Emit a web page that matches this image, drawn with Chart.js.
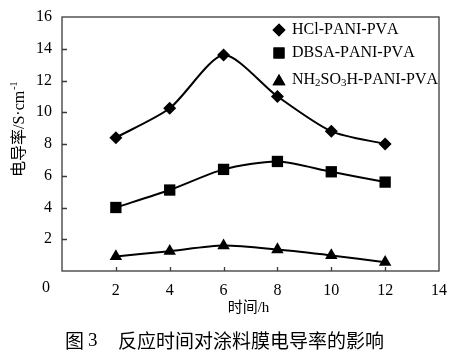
<!DOCTYPE html>
<html><head><meta charset="utf-8">
<script src="https://cdn.jsdelivr.net/npm/chart.js@4.4.1/dist/chart.umd.min.js"></script>
<style>html,body{margin:0;padding:0;background:#fff;}canvas{display:block;}</style>
</head><body>
<canvas id="c" width="453" height="356"></canvas>
<script>
// ---- data ----
const hours = [2, 4, 6, 8, 10, 12];
const seriesNames = ['HCl-PANI-PVA', 'DBSA-PANI-PVA', 'NH₂SO₃H-PANI-PVA'];
const hclValues = [8.4, 10.25, 13.6, 11.0, 8.8, 8.0];
const dbsaValues = [4.0, 5.1, 6.4, 6.9, 6.25, 5.6];
const nhValues = [0.92, 1.25, 1.6, 1.35, 0.98, 0.55];
const xTickValues = [0, 2, 4, 6, 8, 10, 12, 14];
const yTickValues = [0, 2, 4, 6, 8, 10, 12, 14, 16];
const xTitle = '时间/h';
const yTitleMain = '电导率/S·cm';
const yTitleSup = '-1';
const captionLabel = '图 3';
const captionText = '反应时间对涂料膜电导率的影响';

const SERIF = '"Liberation Serif", "Noto Sans CJK SC", serif';
const INK = '#000';
const FRAME = '#3a3a3a';

function pts(vals) { return hours.map((h, i) => ({ x: h, y: vals[i] })); }

const styles = [
  { pointStyle: 'rectRot', radius: 6.5 },
  { pointStyle: 'rect', radius: 8 },
  { pointStyle: 'triangle', radius: 7.2 }
];
const allVals = [hclValues, dbsaValues, nhValues];

const datasets = allVals.map((v, i) => ({
  label: seriesNames[i],
  data: pts(v),
  borderColor: INK,
  borderWidth: 2,
  backgroundColor: INK,
  pointStyle: styles[i].pointStyle,
  pointRadius: styles[i].radius,
  pointBackgroundColor: INK,
  pointBorderWidth: 0,
  tension: 0.25,
  fill: false
}));

function drawRich(ctx, text, x, y, size) {
  let cx = x;
  for (const ch of text) {
    const code = ch.codePointAt(0);
    if (code >= 0x2080 && code <= 0x2089) {
      const d = String(code - 0x2080);
      ctx.font = (size * 0.68) + 'px ' + SERIF;
      ctx.fillText(d, cx, y + size * 0.22);
      cx += ctx.measureText(d).width;
    } else {
      ctx.font = size + 'px ' + SERIF;
      ctx.fillText(ch, cx, y);
      cx += ctx.measureText(ch).width;
    }
  }
}

const decor = {
  id: 'decor',
  afterDraw(chart) {
    const ctx = chart.ctx;
    const a = chart.chartArea;
    const xs = chart.scales.x, ys = chart.scales.y;
    ctx.save();
    ctx.strokeStyle = FRAME;
    ctx.lineWidth = 1.3;
    ctx.strokeRect(a.left, a.top, a.right - a.left, a.bottom - a.top);
    ctx.beginPath();
    yTickValues.forEach(v => {
      if (v === 0 || v === 16) return;
      const y = Math.round(ys.getPixelForValue(v)) + 0.5;
      ctx.moveTo(a.left, y); ctx.lineTo(a.left + 5, y);
    });
    xTickValues.forEach(v => {
      if (v === 0 || v === 14) return;
      const x = Math.round(xs.getPixelForValue(v)) + 0.5;
      ctx.moveTo(x, a.bottom); ctx.lineTo(x, a.bottom - 4);
    });
    ctx.stroke();
    ctx.fillStyle = INK;
    ctx.font = '16px ' + SERIF;
    ctx.textAlign = 'center';
    ctx.textBaseline = 'middle';
    ctx.fillText(String(xTickValues[0]), xs.getPixelForValue(0) - 16, a.bottom + 17);
    // legend
    ctx.textAlign = 'left';
    ctx.textBaseline = 'middle';
    const legY = [30, 53, 80];
    chart.data.datasets.forEach((ds, i) => {
      const mx = 279, my = legY[i];
      Chart.helpers.drawPoint(ctx, {
        pointStyle: ds.pointStyle, radius: ds.pointStyle === 'rect' ? 7.8 : (ds.pointStyle === 'triangle' ? 7.5 : 6.5),
        rotation: 0, borderWidth: 0
      }, mx, my + (ds.pointStyle === 'triangle' ? 1.5 : 0));
      ctx.fillStyle = INK;
      ctx.fill();
      drawRich(ctx, ds.label, 292, my, 16);
    });
    // x title
    ctx.font = '15px ' + SERIF;
    ctx.textAlign = 'center';
    ctx.textBaseline = 'middle';
    ctx.fillText(xTitle, (a.left + a.right) / 2 - 2, 308);
    // y title
    ctx.save();
    ctx.translate(20, 177);
    ctx.rotate(-Math.PI / 2);
    ctx.textAlign = 'left';
    ctx.textBaseline = 'middle';
    ctx.font = '16px ' + SERIF;
    ctx.fillText(yTitleMain, 0, 0);
    const w = ctx.measureText(yTitleMain).width;
    ctx.font = '10px ' + SERIF;
    ctx.fillText(yTitleSup, w + 1, -6);
    ctx.restore();
    // caption
    ctx.textAlign = 'left';
    ctx.textBaseline = 'middle';
    ctx.font = '19px "Noto Sans CJK SC", ' + SERIF;
    ctx.fillText(captionLabel.split(' ')[0], 65, 341);
    ctx.font = '19px ' + SERIF;
    ctx.fillText(captionLabel.split(' ')[1], 88, 341);
    ctx.font = '19px "Noto Sans CJK SC", sans-serif';
    ctx.fillText(captionText, 118, 341);
    ctx.restore();
  }
};

new Chart(document.getElementById('c'), {
  type: 'line',
  data: { datasets },
  options: {
    responsive: false,
    animation: false,
    devicePixelRatio: 1,
    layout: { padding: { top: 17, right: 14, left: 0, bottom: 0 } },
    plugins: { legend: { display: false }, tooltip: { enabled: false } },
    scales: {
      x: {
        type: 'linear', min: 0, max: 14,
        afterBuildTicks: s => { s.ticks = xTickValues.map(v => ({ value: v })); },
        afterFit: s => { s.height = 85; s.paddingLeft = 0; s.paddingRight = 0; },
        grid: { display: false, drawTicks: false },
        border: { display: false },
        ticks: {
          color: INK, padding: 10,
          font: { family: SERIF, size: 16 },
          callback: v => (v === 0 ? '' : String(v))
        }
      },
      y: {
        min: 0, max: 16,
        afterBuildTicks: s => { s.ticks = yTickValues.map(v => ({ value: v })); },
        afterFit: s => { s.width = 62; s.paddingTop = 0; s.paddingBottom = 0; },
        grid: { display: false, drawTicks: false },
        border: { display: false },
        ticks: {
          color: INK, padding: 10,
          font: { family: SERIF, size: 16 },
          callback: v => (v === 0 ? '' : String(v))
        }
      }
    }
  },
  plugins: [decor]
});
</script>
</body></html>
